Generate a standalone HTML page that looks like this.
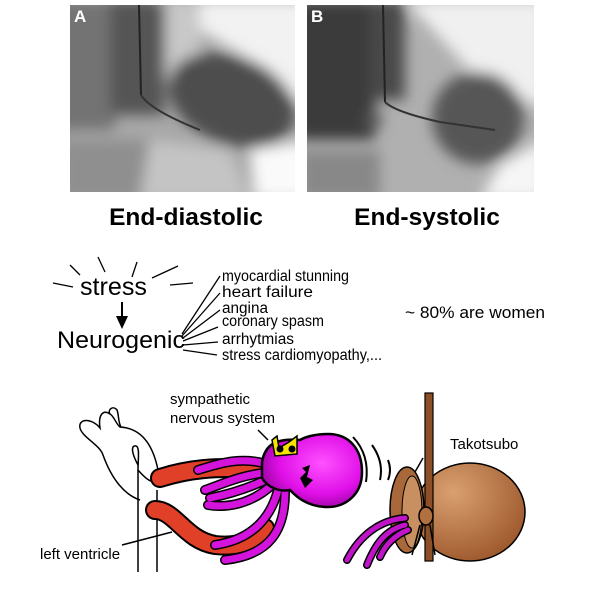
<!DOCTYPE html>
<html><head><style>
html,body{margin:0;padding:0;background:#fff;}
svg{display:block;}
text{font-family:"Liberation Sans",sans-serif;}
</style></head><body>
<svg width="600" height="600" viewBox="0 0 600 600" xmlns="http://www.w3.org/2000/svg">
<defs>
<filter id="b6" x="-50%" y="-50%" width="200%" height="200%"><feGaussianBlur stdDeviation="7"/></filter>
<clipPath id="ca"><rect x="70" y="5" width="225" height="187"/></clipPath>
<clipPath id="cb"><rect x="307" y="5" width="227" height="187"/></clipPath>
<radialGradient id="hg" cx="0.6" cy="0.4" r="0.7"><stop offset="0" stop-color="#ff50ff"/><stop offset="0.6" stop-color="#e010e8"/><stop offset="1" stop-color="#8a0090"/></radialGradient>
<radialGradient id="pg" cx="0.35" cy="0.3" r="0.8"><stop offset="0" stop-color="#d9a070"/><stop offset="1" stop-color="#9a5428"/></radialGradient>
</defs>

<!-- Image A -->
<g clip-path="url(#ca)">
<rect x="70" y="5" width="225" height="187" fill="#a8a8a8"/>
<g filter="url(#b6)">
<rect x="55" y="0" width="60" height="130" fill="#737373"/>
<rect x="110" y="0" width="55" height="115" fill="#555"/>
<path d="M160,0 L310,0 L310,110 L250,60 L200,30 Z" fill="#f2f2f2"/>
<path d="M165,0 L200,0 L200,80 L165,80Z" fill="#c8c8c8"/>
<ellipse cx="232" cy="100" rx="66" ry="44" transform="rotate(22 232 100)" fill="#4e4e4e"/>
<rect x="60" y="140" width="90" height="60" fill="#8f8f8f"/>
<path d="M150,140 L230,150 L250,200 L140,200Z" fill="#c4c4c4"/>
<path d="M250,150 L310,140 L310,200 L255,200Z" fill="#fafafa"/>
</g>
<line x1="139" y1="5" x2="141" y2="95" stroke="#222" stroke-width="2"/>
<path d="M141,95 Q150,110 200,130" stroke="#333" stroke-width="2" fill="none"/>
<text x="74" y="22" fill="#fff" font-family="Liberation Serif,serif" font-weight="bold" font-size="17">A</text>
</g>
<!-- Image B -->
<g clip-path="url(#cb)">
<rect x="307" y="5" width="227" height="187" fill="#b0b0b0"/>
<g filter="url(#b6)">
<rect x="295" y="0" width="80" height="140" fill="#3a3a3a"/>
<rect x="370" y="0" width="35" height="100" fill="#4a4a4a"/>
<path d="M405,0 L545,0 L545,110 L470,70 Z" fill="#f0f0f0"/>
<ellipse cx="478" cy="118" rx="46" ry="46" fill="#575757"/>
<ellipse cx="373" cy="120" rx="10" ry="8" fill="#555"/>
<rect x="300" y="150" width="80" height="50" fill="#888"/>
<path d="M500,165 L545,140 L545,200 L480,200Z" fill="#f6f6f6"/>
</g>
<line x1="383" y1="5" x2="385" y2="102" stroke="#222" stroke-width="2"/>
<path d="M385,102 Q395,112 440,122 L495,130" stroke="#333" stroke-width="2" fill="none"/>
<text x="311" y="22" fill="#fff" font-family="Liberation Serif,serif" font-weight="bold" font-size="17">B</text>
</g>

<text x="186" y="225" text-anchor="middle" font-weight="bold" font-size="24.5">End-diastolic</text>
<text x="427" y="225" text-anchor="middle" font-weight="bold" font-size="24.5">End-systolic</text>

<!-- stress section -->
<g stroke="#000" stroke-width="1.3">
<line x1="53" y1="283" x2="73" y2="287"/>
<line x1="70" y1="265" x2="80" y2="275"/>
<line x1="98" y1="257" x2="105" y2="272"/>
<line x1="137" y1="262" x2="132" y2="277"/>
<line x1="178" y1="266" x2="152" y2="278"/>
<line x1="170" y1="285" x2="193" y2="283"/>
<line x1="122" y1="302" x2="122" y2="318" stroke-width="2"/>
<line x1="182" y1="334" x2="220" y2="276"/>
<line x1="182" y1="336" x2="220" y2="293"/>
<line x1="183" y1="338" x2="220" y2="310"/>
<line x1="183" y1="341" x2="218" y2="327"/>
<line x1="183" y1="345" x2="218" y2="342"/>
<line x1="183" y1="350" x2="217" y2="355"/>
</g>
<path d="M116,316 L128,316 L122,329 Z" fill="#000"/>
<text x="80" y="295" font-size="25" textLength="67" lengthAdjust="spacingAndGlyphs">stress</text>
<text x="57" y="348" font-size="24.5" textLength="128" lengthAdjust="spacingAndGlyphs">Neurogenic</text>
<g font-size="15.5">
<text x="222" y="281" textLength="127" lengthAdjust="spacingAndGlyphs">myocardial stunning</text>
<text x="222" y="297" textLength="91" lengthAdjust="spacingAndGlyphs">heart failure</text>
<text x="222" y="313" textLength="46" lengthAdjust="spacingAndGlyphs">angina</text>
<text x="222" y="326" textLength="102" lengthAdjust="spacingAndGlyphs">coronary spasm</text>
<text x="222" y="344" textLength="72" lengthAdjust="spacingAndGlyphs">arrhytmias</text>
<text x="222" y="360" textLength="160" lengthAdjust="spacingAndGlyphs">stress cardiomyopathy,...</text>
</g>
<text x="405" y="318" font-size="16.5" textLength="140" lengthAdjust="spacingAndGlyphs">~ 80% are women</text>

<!-- cartoon -->
<g fill="none" stroke="#000" stroke-width="1.5">
<path d="M140,500 C125,495 112,480 103,455 C100,445 82,437 80,428 C78,418 92,418 100,428 C98,415 103,409 110,414 C114,416 116,424 120,427 C138,428 152,440 158,470"/>
<path d="M110,414 C107,410 113,405 117,410 C119,415 118,422 121,427"/>
<path d="M138,572 L138,465 C130,450 132,445 136,446 C140,447 138,460 138,470 C145,478 150,482 155,482"/>
<path d="M157,572 L157,490"/>
<line x1="122" y1="545" x2="172" y2="532"/>
<line x1="258" y1="430" x2="268" y2="440"/>
<line x1="415" y1="472" x2="423" y2="458"/>
</g>
<!-- red LV -->
<g stroke-linecap="round" fill="none">
<path d="M160,478 C185,470 215,465 265,470" stroke="#000" stroke-width="20"/>
<path d="M160,478 C185,470 215,465 265,470" stroke="#e04028" stroke-width="16"/>
<path d="M155,510 C175,510 185,540 215,545 C240,548 255,540 265,528" stroke="#000" stroke-width="20"/>
<path d="M155,510 C175,510 185,540 215,545 C240,548 255,540 265,528" stroke="#e04028" stroke-width="16"/>
</g>
<!-- magenta tentacles -->
<g stroke-linecap="round" fill="none">
<g stroke="#000" stroke-width="10">
<path d="M270,465 C240,455 215,465 198,470"/>
<path d="M270,472 C240,475 220,485 205,490"/>
<path d="M270,478 C245,490 225,495 210,498"/>
<path d="M272,485 C250,505 225,508 208,505"/>
<path d="M278,490 C270,520 250,540 215,545"/>
<path d="M285,492 C285,530 270,555 225,560"/>
</g>
<g stroke="#d414dc" stroke-width="7">
<path d="M270,465 C240,455 215,465 198,470"/>
<path d="M270,472 C240,475 220,485 205,490"/>
<path d="M270,478 C245,490 225,495 210,498"/>
<path d="M272,485 C250,505 225,508 208,505"/>
<path d="M278,490 C270,520 250,540 215,545"/>
<path d="M285,492 C285,530 270,555 225,560"/>
</g>
</g>
<!-- head -->
<path d="M262,462 C265,445 275,438 300,440 C305,437 315,434 328,434 C350,434 362,450 362,472 C362,495 345,508 325,507 C305,506 295,495 290,490 C280,492 268,488 262,478 Z" fill="url(#hg)" stroke="#000" stroke-width="2.5"/>
<path d="M300,478 l6,-6 l-4,-4 l8,-3 l-3,12 l6,3 l-8,8 z" fill="#000"/>
<path d="M272,440 l5,-4 l2,12 l10,-6 l8,-6 l0,18 l-22,2 z" fill="#f4e400" stroke="#000" stroke-width="1.5"/>
<circle cx="280" cy="449" r="3.5" fill="#000"/><circle cx="292" cy="449" r="3.5" fill="#000"/>
<!-- motion lines -->
<g fill="none" stroke="#000" stroke-width="2">
<path d="M353,437 Q370,455 366,482"/>
<path d="M372,445 Q384,462 380,480"/>
<path d="M388,460 Q392,470 388,480"/>
</g>
<!-- pot -->
<ellipse cx="470" cy="512" rx="55" ry="49" fill="url(#pg)" stroke="#000" stroke-width="1.5"/>
<ellipse cx="407" cy="510" rx="17" ry="43" fill="#a8683a" stroke="#000" stroke-width="1.5"/>
<ellipse cx="412" cy="512" rx="10" ry="36" fill="#c89060" stroke="#000" stroke-width="1"/>
<!-- stick -->
<rect x="425" y="393" width="8" height="168" fill="#8c4f28" stroke="#000" stroke-width="1.2"/>
<g fill="none" stroke="#000" stroke-width="1.5">
<ellipse cx="426" cy="516" rx="7" ry="9" fill="#b07040"/>
<path d="M420,525 L412,555 M430,525 L435,555"/>
</g>
<!-- tentacles out of pot -->
<g stroke-linecap="round" fill="none">
<g stroke="#000" stroke-width="8">
<path d="M405,518 C380,520 360,535 347,560"/>
<path d="M405,525 C385,530 375,545 367,565"/>
<path d="M408,530 C395,535 385,545 380,557"/>
</g>
<g stroke="#c014c8" stroke-width="5">
<path d="M405,518 C380,520 360,535 347,560"/>
<path d="M405,525 C385,530 375,545 367,565"/>
<path d="M408,530 C395,535 385,545 380,557"/>
</g>
</g>
<g font-size="15">
<text x="170" y="404">sympathetic</text>
<text x="170" y="423">nervous system</text>
<text x="450" y="449">Takotsubo</text>
<text x="40" y="559">left ventricle</text>
</g>
</svg>
</body></html>
